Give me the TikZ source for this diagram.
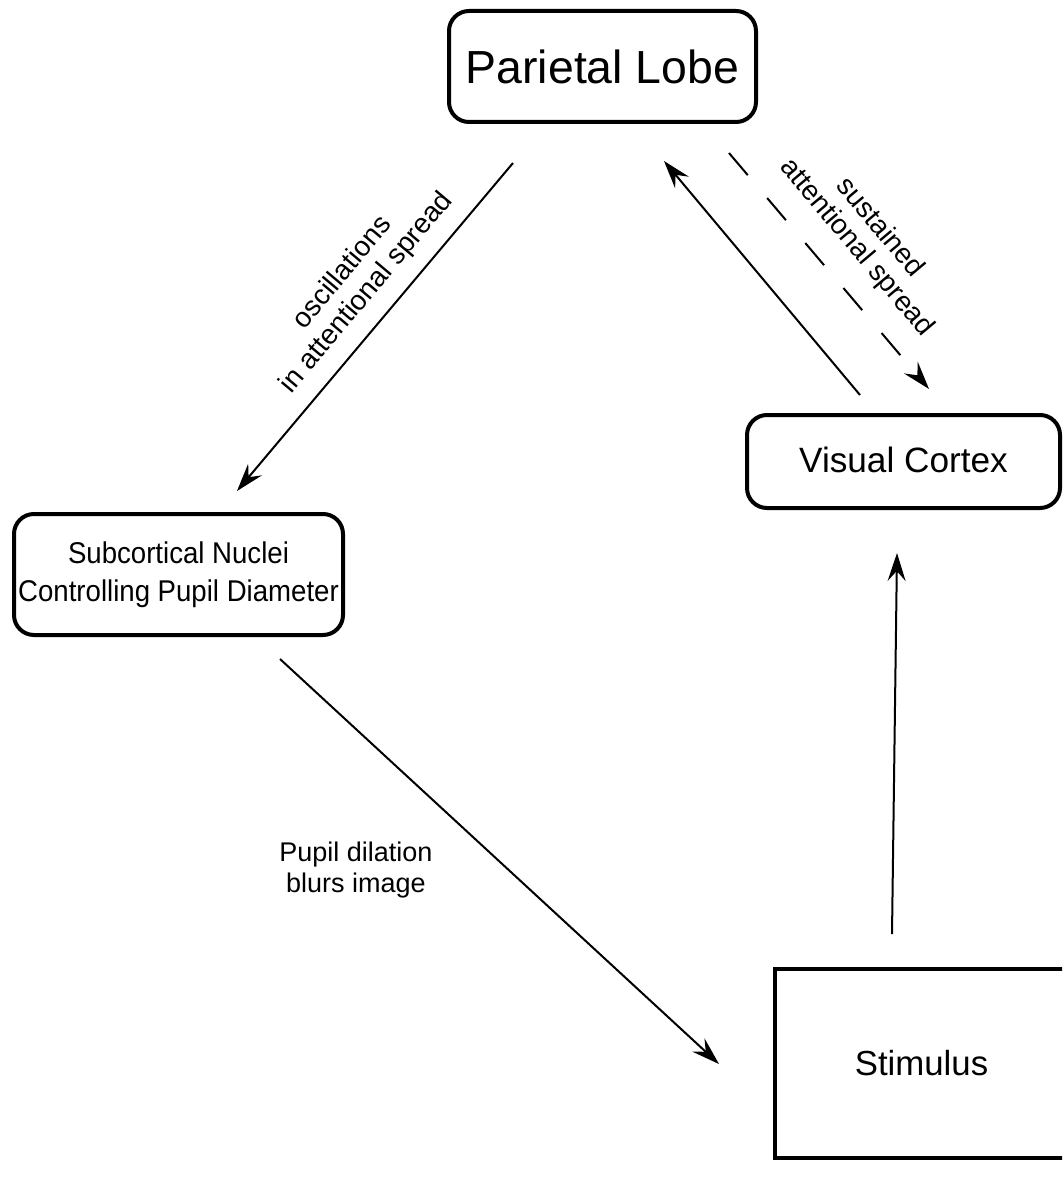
\documentclass[tikz,border=0pt]{standalone}
\usepackage{fontspec}
\setmainfont{Liberation Sans}
\usetikzlibrary{arrows.meta}
\begin{document}
\begin{tikzpicture}[x=0.5pt,y=-0.5pt,
  box/.style={draw, line width=2pt, rounded corners=10pt, align=center, inner sep=0pt},
  sqbox/.style={draw, line width=2pt, align=center, inner sep=0pt},
  conn/.style={line width=1pt, -{Stealth[length=14pt,width=9pt,inset=5pt]}},
  lbl/.style={align=center, inner sep=0pt, font=\fontsize{14}{15.5}\selectfont}]
\clip (0,0) rectangle (1062,1177);
\fill[white] (0,0) rectangle (1062,1177);
% nodes
\node[box, minimum width=153.5pt, minimum height=55.5pt, font=\fontsize{23.2}{27}\selectfont] (par) at (602.5,66.5) {Parietal Lobe};
\node[box, minimum width=156.5pt, minimum height=46.5pt, font=\fontsize{17.6}{21}\selectfont] (vis) at (903.5,461.5) {\raisebox{2pt}{Visual Cortex}};
\node[box, minimum width=164.5pt, minimum height=60.5pt] (sub) at (178.5,574.5)
  {\scalebox{0.92}[1]{\fontsize{15}{19}\selectfont\begin{tabular}{@{}c@{}}Subcortical Nuclei\\Controlling Pupil Diameter\end{tabular}}};
\node[sqbox, minimum width=146.5pt, minimum height=94.5pt, font=\fontsize{17.4}{21}\selectfont] (stim) at (921.5,1063.5) {Stimulus};
% connector end points
\coordinate (a1s) at (513,163);  \coordinate (a1e) at (237,491);
\coordinate (a2s) at (860,395);  \coordinate (a2e) at (664,161);
\coordinate (a3s) at (729,153);  \coordinate (a3e) at (929,389);
\coordinate (a4s) at (892,934);  \coordinate (a4e) at (897,553);
\coordinate (a5s) at (280,659);  \coordinate (a5e) at (719,1064);
% connectors
\draw[conn] (a1s) -- (a1e);
\draw[conn] (a2s) -- (a2e);
\draw[conn, dash pattern=on 14.5pt off 15pt] (a3s) -- (a3e);
\draw[conn] (a4s) -- (a4e);
\draw[conn] (a5s) -- (a5e);
% labels
\node[lbl, rotate=50] (l1) at (355,283) {oscillations\\in attentional spread};
\node[lbl, rotate=-50] (l2) at (868,238) {sustained\\attentional spread};
\node[lbl, font=\fontsize{13.5}{15.5}\selectfont] (l3) at (356,870) {Pupil dilation\\blurs image};
\end{tikzpicture}
\end{document}
